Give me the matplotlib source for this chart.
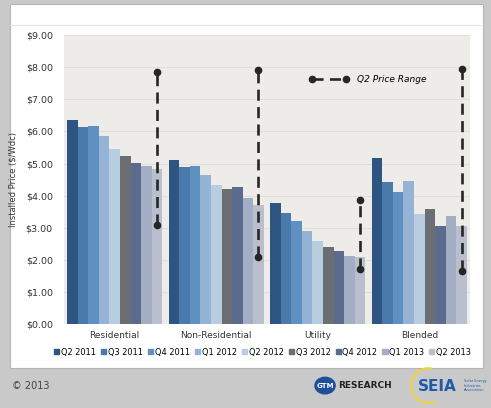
import numpy as np
import matplotlib.pyplot as plt
from matplotlib.lines import Line2D
from matplotlib.patches import Rectangle, Circle, Arc

segments = ["Residential", "Non-Residential", "Utility", "Blended"]
quarters = ["Q2 2011", "Q3 2011", "Q4 2011", "Q1 2012", "Q2 2012",
            "Q3 2012", "Q4 2012", "Q1 2013", "Q2 2013"]

# installed price ($/Wdc), one row per segment, one column per quarter
residential = [6.36, 6.14, 6.16, 5.87, 5.44, 5.22, 5.03, 4.91, 4.82]
non_residential = [5.10, 4.90, 4.92, 4.64, 4.34, 4.22, 4.27, 3.94, 3.72]
utility = [3.76, 3.46, 3.21, 2.89, 2.60, 2.39, 2.27, 2.13, 2.10]
blended = [5.16, 4.41, 4.10, 4.46, 3.44, 3.58, 3.04, 3.38, 3.05]

# Q2 2013 price range (low, high)
range_low = [3.07, 2.09, 1.71, 1.65]
range_high = [7.84, 7.91, 3.86, 7.95]

yticks = np.arange(0, 10, 1)

colors = ["#2e5582", "#4a7aab", "#5e90c2", "#95b3d5", "#b9cde1",
          "#6b6e73", "#5b6b8d", "#a3aec4", "#b9bfcd"]

data = np.array([residential, non_residential, utility, blended])

fig = plt.figure(figsize=(4.91, 4.08), dpi=100)
fig.patch.set_facecolor("#c9c9c9")

# white slide panel
fig.add_artist(Rectangle((0.021, 0.098), 0.962, 0.892, transform=fig.transFigure,
                         facecolor="white", edgecolor="#b5b5b5", lw=0.8, zorder=-10))
fig.add_artist(Line2D([0.021, 0.98], [0.939, 0.939], color="#e2e6ea", lw=0.8, zorder=-5))

ax = fig.add_axes([0.1303, 0.2059, 0.827, 0.708])
ax.set_facecolor("#edece8")

n = len(quarters)
w = 0.104
x = np.arange(len(segments))
for i, q in enumerate(quarters):
    ax.bar(x + (i - (n - 1) / 2) * w, data[:, i], width=w, color=colors[i],
           label=q, zorder=2)

# price range lines over the latest quarter
dash = (0, (4.2, 2.4))
xr = x + ((n - 1) - (n - 1) / 2) * w
for k in range(len(segments)):
    ax.plot([xr[k], xr[k]], [range_low[k], range_high[k]], color="#262626",
            lw=1.9, ls=dash, marker="o", ms=4.5, zorder=3)

ax.set_xlim(-0.5, 3.5)
ax.set_ylim(0, 9)
ax.set_yticks(yticks)
ax.set_yticklabels(["$%.2f" % v for v in yticks])
ax.set_xticks(x)
ax.set_xticklabels(segments)
ax.grid(axis="y", color="#e3d9d7", lw=0.6, zorder=0)
for s in ax.spines.values():
    s.set_visible(False)
ax.tick_params(axis="both", length=0, labelsize=6.5, colors="#333333")
ax.tick_params(axis="y", pad=8, labelsize=6.8)
ax.tick_params(axis="x", pad=5)
ax.set_ylabel("Installed Price ($/Wdc)", fontsize=6, color="#333333", labelpad=6)

range_handle = Line2D([], [], color="#262626", lw=1.9, ls=dash,
                      marker="o", ms=4.5)
ax.legend([range_handle], ["Q2 Price Range"], loc="center left",
          bbox_to_anchor=(0.585, 0.845), frameon=False, numpoints=2,
          handlelength=4.3, handletextpad=0.9,
          prop={"size": 6.5, "style": "italic"})

handles = [Rectangle((0, 0), 1, 1, color=c) for c in colors]
fig.legend(handles, quarters, loc="center", bbox_to_anchor=(0.535, 0.137), ncol=9,
           frameon=False, handlelength=0.55, handleheight=0.55, handletextpad=0.2,
           columnspacing=0.55, borderpad=0,
           prop={"family": "DejaVu Sans", "stretch": "condensed", "size": 6.6})

# footer
fig.text(0.024, 0.055, "\u00a9 2013", fontsize=7, color="#444444", va="center")
fig.add_artist(Circle((0.662, 0.055), 0.022, transform=fig.transFigure,
                      facecolor="#1f4f9a", edgecolor="none"))
fig.text(0.662, 0.055, "GTM", fontsize=5, color="white", weight="bold",
         ha="center", va="center")
fig.text(0.688, 0.055, "RESEARCH", fontsize=6.5, color="#222222", weight="bold",
         va="center")
fig.add_artist(Arc((0.872, 0.055), 0.07, 0.085, theta1=80, theta2=290,
                   transform=fig.transFigure, color="#f2d23c", lw=1.5))
fig.text(0.89, 0.052, "SEIA", fontsize=11, color="#1e5ba8", weight="bold",
         ha="center", va="center")
fig.text(0.945, 0.055, "Solar Energy\nIndustries\nAssociation", fontsize=2.5,
         color="#1e5ba8", va="center")

fig.savefig("out.png", dpi=100, facecolor=fig.get_facecolor())
